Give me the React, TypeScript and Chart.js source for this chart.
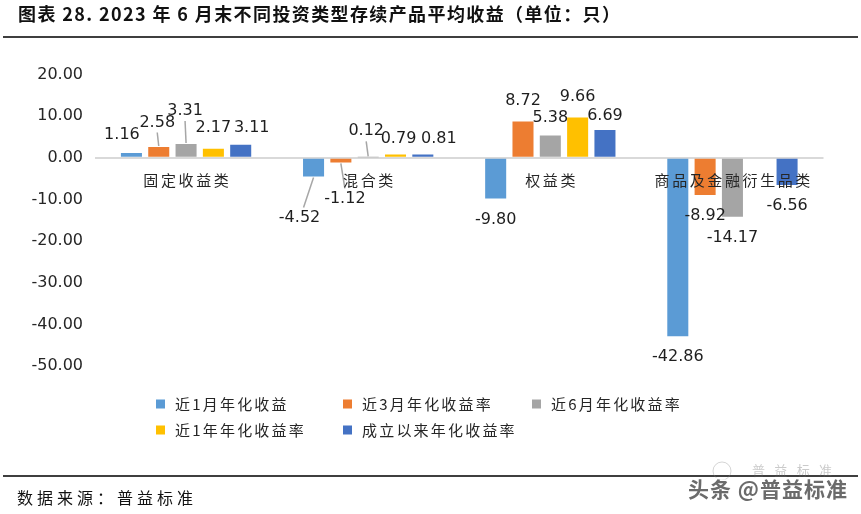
import React, { useEffect, useRef } from "react";
import { Chart, registerables } from "chart.js";
Chart.register(...registerables);

const titleText = "图表 28. 2023 年 6 月末不同投资类型存续产品平均收益（单位：只）";
const sourceText = "数据来源：普益标准";
const watermarkText = "头条 @普益标准";
const categories = ["固定收益类", "混合类", "权益类", "商品及金融衍生品类"];
const seriesNames = ["近1月年化收益", "近3月年化收益率", "近6月年化收益率", "近1年年化收益率", "成立以来年化收益率"];
const ret1m = [1.16, -4.52, -9.8, -42.86];
const ret3m = [2.58, -1.12, 8.72, -8.92];
const ret6m = [3.31, 0.12, 5.38, -14.17];
const ret1y = [2.17, 0.79, 9.66, null];
const retSince = [3.11, 0.81, 6.69, -6.56];
const yTicks = [20, 10, 0, -10, -20, -30, -40, -50];

const colors = ["#5B9BD5", "#ED7D31", "#A5A5A5", "#FFC000", "#4472C4"];
const CJK = '"Noto Sans CJK SC", "Noto Sans", sans-serif';
const NUM = '"DejaVu Sans", sans-serif';

// label nudges (dataset-index) to avoid overlaps, like the original
const labelAdjust: Record<string, { dx: number; dy: number; leader?: boolean }> = {
  "0-0": { dx: -9.5, dy: 2.5 },
  "1-0": { dx: -1.5, dy: -3.5, leader: true },
  "2-0": { dx: -1, dy: -12, leader: true },
  "4-0": { dx: 11, dy: 4 },
  "0-1": { dx: -14, dy: 20, leader: true },
  "1-1": { dx: 4, dy: 15, leader: true },
  "2-1": { dx: -2, dy: -5, leader: true },
  "3-1": { dx: 3, dy: 5 },
  "4-1": { dx: 16, dy: 5 },
  "2-2": { dx: 0, dy: 3 },
  "4-2": { dx: 0, dy: 7 },
};

function drawSpaced(ctx: CanvasRenderingContext2D, text: string, x: number, y: number, spacing: number, align: "left" | "center") {
  ctx.letterSpacing = "0px";
  const n = Array.from(text).length;
  const w = ctx.measureText(text).width + spacing * (n - 1);
  const sx = align === "center" ? x - w / 2 : x;
  ctx.textAlign = "left";
  ctx.letterSpacing = spacing + "px";
  ctx.fillText(text, sx, y);
  ctx.letterSpacing = "0px";
}

function fitSpaced(ctx: CanvasRenderingContext2D, text: string, x: number, y: number, width: number) {
  ctx.letterSpacing = "0px";
  const n = Array.from(text).length;
  const base = ctx.measureText(text).width;
  const sp = (width - base) / (n - 1);
  drawSpaced(ctx, text, x, y, sp, "left");
}

const decorPlugin = {
  id: "decor",
  afterDraw(chart: any) {
    const ctx: CanvasRenderingContext2D = chart.ctx;
    const y = chart.scales.y;
    const x = chart.scales.x;
    const zero = y.getPixelForValue(0);
    ctx.save();
    ctx.textBaseline = "middle";

    // data labels
    ctx.font = `16px ${NUM}`;
    chart.data.datasets.forEach((ds: any, di: number) => {
      const meta = chart.getDatasetMeta(di);
      meta.data.forEach((bar: any, i: number) => {
        const v = ds.data[i];
        if (v === null || v === undefined) return;
        const pos = v >= 0;
        const adj = labelAdjust[`${di}-${i}`] || { dx: 0, dy: 0 };
        const lx = bar.x + adj.dx;
        const ly = bar.y + (pos ? -21 : 21) + adj.dy;
        if (adj.leader) {
          ctx.strokeStyle = "#a6a6a6";
          ctx.lineWidth = 1.5;
          ctx.beginPath();
          ctx.moveTo(bar.x, bar.y + (pos ? -1 : 1));
          ctx.lineTo(lx + (adj.dx > 6 ? -4 : adj.dx < -6 ? 4 : 0), ly + (pos ? 10 : -10));
          ctx.stroke();
        }
        ctx.fillStyle = "#1e1e1e";
        ctx.textAlign = "center";
        ctx.fillText(v.toFixed(2), lx, ly);
      });
    });

    // category labels near zero line
    ctx.font = `15px ${CJK}`;
    ctx.fillStyle = "#262626";
    chart.data.labels.forEach((lab: string, i: number) => {
      drawSpaced(ctx, lab, x.getPixelForValue(i), zero + 23, 2.6, "center");
    });

    // legend
    const colX = [156, 343, 532];
    const rowY = [404, 430];
    ctx.font = `15px ${CJK}`;
    chart.data.datasets.forEach((ds: any, i: number) => {
      const cx = colX[i % 3];
      const cy = rowY[Math.floor(i / 3)];
      ctx.fillStyle = ds.backgroundColor;
      ctx.fillRect(cx, cy - 4.5, 9, 9);
      ctx.fillStyle = "#262626";
      drawSpaced(ctx, ds.label, cx + 19, cy, 2.2, "left");
    });

    // title & lines
    ctx.fillStyle = "#111";
    ctx.font = `bold 18px ${CJK}`;
    fitSpaced(ctx, titleText, 18, 14, 602);
    ctx.strokeStyle = "#000";
    ctx.lineWidth = 1.5;
    ctx.beginPath();
    ctx.moveTo(3, 37);
    ctx.lineTo(858, 37);
    ctx.moveTo(3, 476);
    ctx.lineTo(858, 476);
    ctx.stroke();

    // source
    ctx.font = `16px ${CJK}`;
    ctx.fillStyle = "#111";
    fitSpaced(ctx, sourceText, 17, 498, 176);

    // watermark
    ctx.globalAlpha = 0.35;
    ctx.font = `13px ${CJK}`;
    ctx.fillStyle = "#666";
    fitSpaced(ctx, "普益标准", 752, 470, 80);
    ctx.beginPath();
    ctx.arc(722, 471, 9, 0, Math.PI * 2);
    ctx.strokeStyle = "#888";
    ctx.lineWidth = 1;
    ctx.stroke();
    ctx.globalAlpha = 1;
    ctx.font = `bold 21px ${CJK}`;
    ctx.lineWidth = 3;
    ctx.strokeStyle = "rgba(255,255,255,0.9)";
    ctx.letterSpacing = "0px";
    ctx.textAlign = "left";
    ctx.strokeText(watermarkText, 688, 489);
    ctx.fillStyle = "#6b6b6b";
    fitSpaced(ctx, watermarkText, 688, 489, 159);

    ctx.restore();
  },
};

export default function App() {
  const ref = useRef<HTMLCanvasElement | null>(null);
  useEffect(() => {
    document.body.style.margin = "0";
    const canvas = ref.current!;
    const chart = new Chart(canvas, {
      type: "bar",
      data: {
        labels: categories,
        datasets: [ret1m, ret3m, ret6m, ret1y, retSince].map((d, i) => ({
          label: seriesNames[i],
          data: d as any,
          backgroundColor: colors[i],
          borderWidth: 0,
          categoryPercentage: 0.75,
          barPercentage: 0.77,
        })),
      },
      options: {
        responsive: false,
        animation: false,
        devicePixelRatio: 1,
        layout: { padding: { left: 0, right: 37.5, top: 74.5, bottom: 148 } },
        plugins: { legend: { display: false }, tooltip: { enabled: false }, title: { display: false } },
        scales: {
          x: { display: false },
          y: {
            min: -50,
            max: 20,
            afterBuildTicks: (scale: any) => {
              scale.ticks = yTicks.map((v) => ({ value: v }));
            },
            afterFit: (scale: any) => {
              scale.width = 95;
            },
            border: { display: false },
            grid: {
              drawTicks: false,
              color: (c: any) => (c.tick && c.tick.value === 0 ? "#d9d9d9" : "rgba(0,0,0,0)"),
              lineWidth: 2,
            },
            ticks: {
              padding: 12,
              color: "#262626",
              font: { family: "DejaVu Sans", size: 16 },
              callback: (v: any) => Number(v).toFixed(2),
            },
          },
        },
      },
      plugins: [decorPlugin],
    });
    return () => chart.destroy();
  }, []);
  return (
    <div style={{ width: 861, height: 514, background: "#fff" }}>
      <canvas ref={ref} width={861} height={514} style={{ display: "block" }} />
    </div>
  );
}
